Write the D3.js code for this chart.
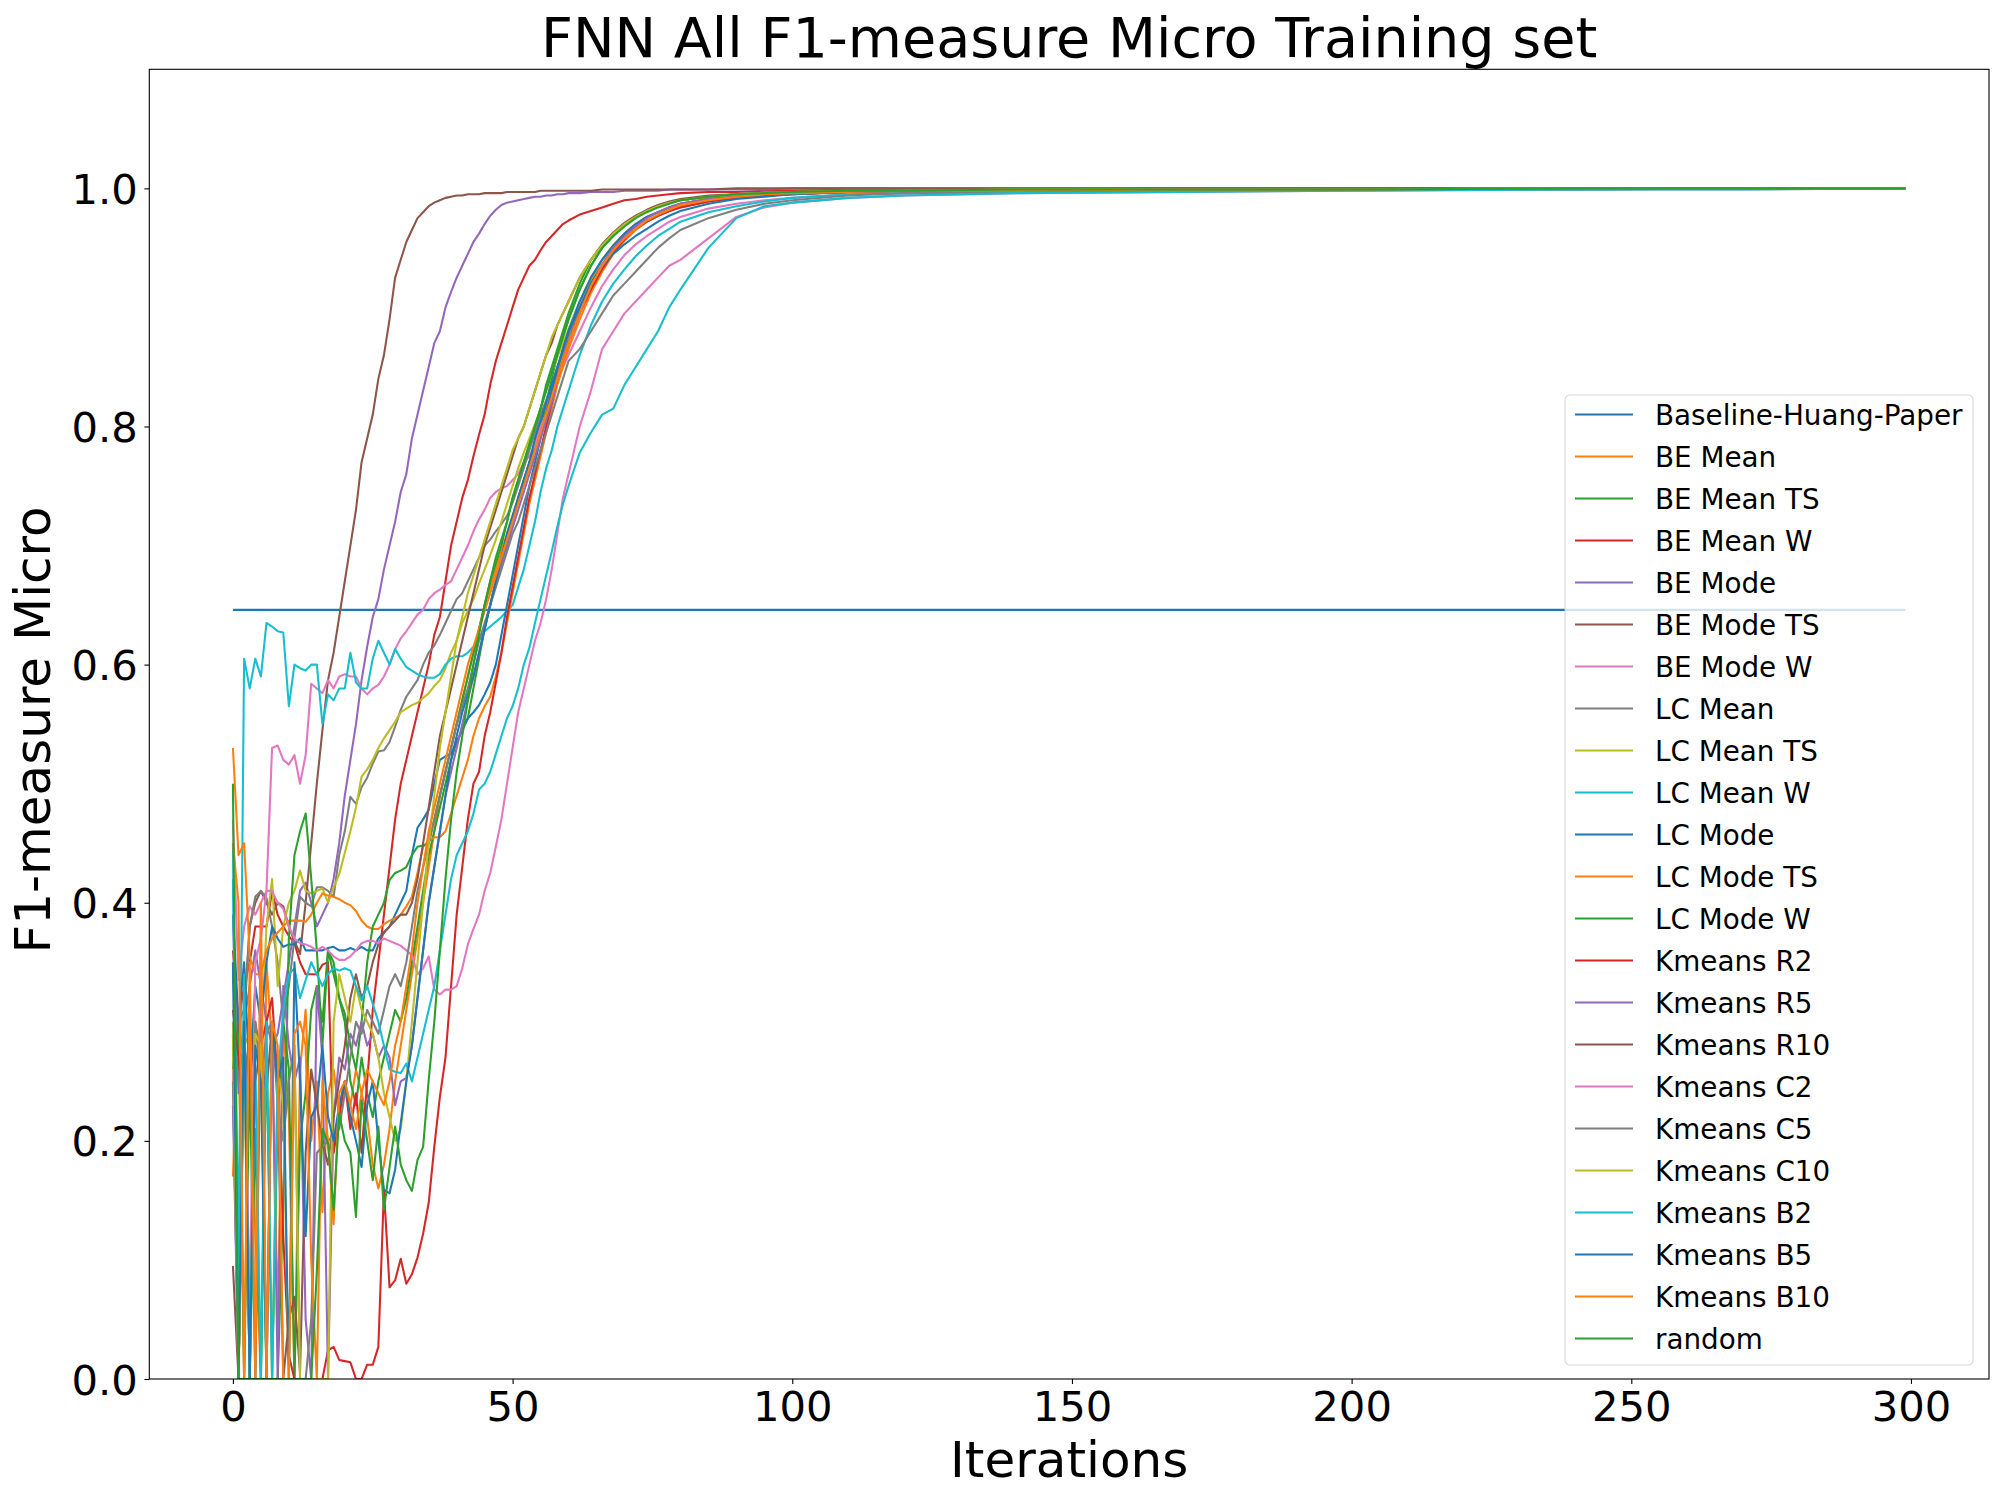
<!DOCTYPE html>
<html>
<head>
<meta charset="utf-8">
<script src="https://cdn.jsdelivr.net/npm/d3@7"></script>
<style>
  body { margin: 0; background: #ffffff; }
  svg text { font-family: "DejaVu Sans", sans-serif; fill: #000000; }
</style>
</head>
<body>
<div id="chart"></div>
<script>
// ----------------------------------------------
// Data
// ----------------------------------------------
var iters = [
    0, 1, 2, 3, 4, 5, 6, 7, 8, 9,
    10, 11, 12, 13, 14, 15, 16, 17, 18, 19,
    20, 21, 22, 23, 24, 25, 26, 27, 28, 29,
    30, 31, 32, 33, 34, 35, 36, 37, 38, 39,
    40, 41, 42, 43, 44, 45, 46, 47, 48, 49,
    50, 51, 52, 53, 54, 55, 56, 57, 58, 59,
    60,
    62, 64, 66, 68, 70, 72, 74, 76, 78, 80,
    85, 90, 95, 100, 110, 120, 140, 170, 200, 240, 270, 299
];

var baselineIters = [0, 299];
var baselineVals = [0.646, 0.646];

var beMean = [
    .17,.30,0,.33,.12,0,.35,.28,.05,.30,
    .22,0,.26,.31,.20,.25,.14,.24,.26,.22,
    .25,.23,.26,.24,.22,.18,.16,.18,.21,.25,
    .28,.31,.34,.37,.40,.43,.46,.49,.51,.53,
    .55,.57,.59,.61,.63,.65,.665,.68,.695,.71,
    .725,.74,.755,.77,.785,.80,.815,.83,.845,.86,
    .875,
    .90,.922,.94,.952,.962,.97,.976,.98,.984,.987,
    .991,.993,.995,.996,.997,.998,.998,.999,.999,1,1,1
];
var beMeanTs = [
    .28,.31,0,.26,0,.31,0,0,.22,.30,
    .26,0,.20,.24,.31,.33,.30,.36,.35,.32,
    .30,.25,.23,.27,.24,.22,.25,.27,.29,.31,
    .30,.32,.35,.38,.41,.44,.46,.48,.50,.52,
    .535,.545,.555,.58,.605,.63,.65,.67,.685,.70,
    .72,.74,.755,.77,.785,.80,.82,.84,.86,.875,
    .89,
    .915,.935,.95,.96,.97,.976,.981,.985,.988,.99,
    .993,.995,.996,.997,.998,.998,.999,.999,.999,1,1,1
];
var beMeanW = [
    .36,.30,.33,.35,.38,.38,.38,.41,.39,.38,
    .372,.366,.35,.34,.34,.34,.348,.35,.19,.22,
    .25,.21,.24,.19,.25,.31,.35,.39,.43,.47,
    .50,.52,.54,.56,.58,.60,.625,.64,.67,.70,
    .72,.74,.755,.775,.793,.81,.835,.855,.87,.885,
    .90,.915,.925,.935,.94,.948,.955,.96,.965,.97,
    .973,
    .978,.981,.984,.987,.99,.991,.993,.994,.995,.996,
    .997,.997,.998,.998,.999,.999,.999,1,1,1,1,1
];
var beMode = [
    .39,.24,.30,.33,.36,.33,.30,.28,.29,.32,
    .35,.38,.41,.417,.40,.38,.39,.40,.42,.45,
    .49,.52,.55,.587,.615,.64,.655,.68,.70,.72,
    .745,.76,.79,.81,.83,.85,.87,.88,.90,.913,
    .925,.935,.945,.955,.962,.97,.977,.982,.986,.988,
    .989,.99,.991,.992,.993,.993,.994,.994,.995,.995,
    .996,
    .996,.997,.997,.997,.998,.998,.998,.998,.999,.999,
    .999,.999,.999,1,1,1,1,1,1,1,1,1
];
var beModeTs = [
    .26,.30,.31,.38,.40,.41,.40,.39,.40,.397,
    .38,.368,.357,.40,.45,.50,.545,.587,.61,.64,
    .67,.70,.73,.77,.79,.81,.84,.86,.89,.925,
    .94,.955,.965,.975,.98,.985,.988,.99,.992,.993,
    .994,.994,.995,.995,.995,.996,.996,.996,.996,.997,
    .997,.997,.997,.997,.997,.998,.998,.998,.998,.998,
    .998,
    .998,.998,.999,.999,.999,.999,.999,.999,.999,.999,
    .999,1,1,1,1,1,1,1,1,1,1,1
];
var beModeW = [
    .47,.335,.38,.397,.39,.40,.41,.53,.532,.52,
    .516,.524,.50,.524,.584,.58,.576,.587,.58,.59,
    .592,.59,.59,.58,.575,.58,.583,.59,.60,.613,
    .622,.628,.635,.642,.646,.655,.66,.663,.667,.67,
    .68,.69,.70,.712,.722,.73,.74,.745,.748,.75,
    .755,.76,.77,.775,.785,.80,.81,.825,.84,.85,
    .86,
    .88,.90,.918,.932,.944,.953,.96,.966,.972,.976,
    .983,.987,.99,.992,.995,.996,.997,.998,.999,.999,1,1
];
var lcMean = [
    .34,.26,.30,.38,.405,.41,.404,.38,.35,.30,
    .33,.37,.405,.40,.397,.413,.413,.41,.405,.44,
    .46,.489,.483,.497,.505,.517,.527,.528,.535,.548,
    .562,.573,.58,.587,.60,.61,.616,.625,.635,.645,
    .655,.66,.67,.68,.69,.70,.705,.712,.718,.725,
    .736,.75,.765,.78,.795,.81,.822,.835,.85,.862,
    .875,
    .90,.92,.935,.948,.958,.966,.972,.977,.981,.984,
    .989,.992,.994,.995,.997,.998,.998,.999,.999,1,1,1
];
var lcMeanTs = [
    .28,.27,.28,.29,.27,.28,.38,.42,.33,.38,
    .40,.41,.427,.41,.408,.41,.412,.40,.413,.424,
    .442,.46,.48,.506,.512,.52,.53,.538,.545,.552,
    .56,.563,.566,.568,.572,.576,.582,.587,.597,.61,
    .62,.635,.645,.655,.668,.68,.692,.705,.72,.735,
    .75,.765,.778,.79,.802,.815,.83,.845,.858,.87,
    .882,
    .905,.925,.94,.952,.962,.97,.976,.98,.984,.987,
    .991,.993,.995,.996,.997,.998,.998,.999,.999,1,1,1
];
var lcMeanW = [
    .45,.10,.605,.58,.605,.59,.635,.632,.628,.627,
    .565,.60,.597,.595,.60,.60,.55,.575,.57,.58,
    .58,.61,.585,.58,.58,.605,.62,.61,.60,.613,
    .605,.598,.595,.592,.59,.589,.589,.592,.60,.605,
    .607,.607,.61,.615,.62,.628,.632,.636,.64,.645,
    .65,.665,.68,.70,.72,.745,.765,.78,.80,.815,
    .83,
    .86,.885,.905,.92,.932,.943,.952,.96,.966,.972,
    .98,.985,.989,.992,.995,.996,.997,.998,.999,.999,1,1
];
var lcMode = [
    .39,.30,.35,.25,.33,.30,.35,.38,.37,.363,
    .365,.365,.37,.36,.36,.36,.36,.362,.363,.36,
    .36,.362,.36,.363,.36,.36,.37,.375,.38,.39,
    .40,.41,.44,.463,.47,.478,.50,.52,.523,.525,
    .535,.545,.555,.56,.566,.575,.585,.60,.625,.65,
    .675,.70,.725,.75,.77,.79,.81,.83,.848,.865,
    .88,
    .905,.925,.94,.952,.962,.97,.976,.98,.984,.987,
    .991,.993,.995,.996,.997,.998,.998,.999,.999,1,1,1
];
var lcModeTs = [
    .53,.44,.45,.355,.34,.34,.36,.37,.375,.38,
    .385,.385,.385,.384,.39,.40,.408,.406,.405,.403,
    .40,.398,.393,.385,.38,.378,.378,.382,.385,.387,
    .39,.397,.405,.425,.447,.452,.455,.455,.46,.475,
    .49,.505,.52,.54,.555,.565,.573,.59,.61,.635,
    .66,.685,.71,.735,.755,.775,.795,.815,.835,.85,
    .865,
    .89,.912,.93,.945,.956,.965,.972,.977,.981,.985,
    .989,.992,.994,.995,.997,.998,.998,.999,.999,1,1,1
];
var lcModeW = [
    .29,0,.30,0,.21,0,.28,0,0,.15,
    .37,.44,.46,.475,.42,.36,.28,.36,.34,.32,
    .307,.28,.26,.30,.35,.38,.39,.40,.419,.425,
    .427,.43,.44,.447,.448,.45,.47,.49,.51,.53,
    .55,.57,.59,.61,.63,.65,.67,.69,.705,.72,
    .74,.755,.77,.785,.80,.815,.835,.85,.865,.88,
    .895,
    .92,.94,.952,.962,.97,.976,.981,.985,.988,.99,
    .993,.995,.996,.997,.998,.998,.999,.999,.999,1,1,1
];
var kmeansR2 = [
    .31,.27,.22,.30,.25,.28,.30,.32,.25,.12,
    .02,0,0,0,0,0,0,.024,.027,.016,
    .015,.014,0,0,.012,.012,.027,.159,.077,.083,
    .101,.08,.088,.102,.122,.148,.195,.237,.27,.33,
    .39,.43,.47,.50,.51,.54,.56,.585,.61,.64,
    .665,.69,.715,.74,.76,.78,.80,.82,.84,.855,
    .87,
    .895,.915,.932,.946,.957,.966,.972,.977,.981,.984,
    .989,.992,.994,.995,.997,.998,.998,.999,.999,1,1,1
];
var kmeansR5 = [
    .23,0,.33,0,0,.36,0,.30,0,.33,
    .28,.25,.27,.05,0,.33,.27,0,.22,.27,
    .26,.29,.28,.30,.28,.29,.27,.28,.27,.23,
    .25,.253,.28,.32,.36,.40,.43,.46,.49,.51,
    .53,.55,.57,.59,.61,.63,.65,.67,.685,.70,
    .715,.73,.745,.76,.775,.79,.805,.82,.84,.855,
    .87,
    .895,.918,.936,.95,.96,.968,.975,.98,.984,.987,
    .991,.993,.995,.996,.997,.998,.998,.999,.999,1,1,1
];
var kmeansR10 = [
    .095,0,.28,.25,.30,.27,.24,.30,.25,0,
    .05,.069,.006,.19,.26,.23,.20,.18,.22,.25,
    .28,.32,.34,.32,.33,.35,.365,.375,.38,.385,
    .39,.39,.40,.42,.45,.48,.51,.54,.56,.58,
    .60,.62,.64,.66,.68,.70,.715,.73,.745,.76,
    .775,.79,.80,.815,.83,.845,.86,.87,.885,.895,
    .905,
    .925,.94,.953,.963,.971,.977,.982,.986,.989,.991,
    .994,.995,.996,.997,.998,.998,.999,.999,.999,1,1,1
];
var kmeansC2 = [
    .26,0,.30,.06,.35,.37,.41,.41,.40,.395,
    .38,.37,.366,.365,.363,.36,.363,.36,.355,.352,
    .352,.355,.36,.366,.368,.368,.366,.37,.368,.366,
    .364,.36,.356,.34,.345,.355,.327,.323,.327,.327,
    .33,.345,.365,.378,.39,.41,.425,.447,.47,.50,
    .53,.56,.58,.60,.62,.635,.655,.68,.71,.74,
    .76,
    .80,.83,.865,.88,.895,.905,.915,.925,.935,.94,
    .958,.976,.984,.988,.992,.994,.996,.997,.998,.999,.999,1
];
var kmeansC5 = [
    .25,0,.29,0,.30,.25,.29,.30,.23,.20,
    .25,.28,0,0,.05,.19,.195,.20,.205,.21,
    .24,.27,.30,.29,.31,.30,.29,.31,.33,.34,
    .33,.35,.38,.41,.43,.45,.47,.49,.51,.53,
    .55,.565,.58,.60,.62,.635,.65,.665,.68,.695,
    .71,.72,.735,.75,.765,.78,.795,.81,.825,.84,
    .855,
    .865,.88,.895,.91,.92,.93,.94,.95,.958,.965,
    .975,.982,.987,.99,.994,.996,.997,.998,.999,.999,1,1
];
var kmeansC10 = [
    .30,0,.27,0,.29,.28,0,0,.26,.23,
    0,.27,0,0,0,0,0,0,.30,.34,
    .32,.30,.33,.31,.30,.29,.27,.24,.22,.20,
    .21,.25,.30,.35,.40,.45,.49,.53,.56,.59,
    .62,.64,.66,.675,.69,.705,.72,.735,.75,.765,
    .78,.79,.80,.815,.83,.845,.86,.875,.885,.895,
    .905,
    .925,.94,.952,.962,.97,.976,.981,.985,.988,.99,
    .993,.995,.996,.997,.998,.998,.999,.999,.999,1,1,1
];
var kmeansB2 = [
    .42,.03,.34,0,.27,0,.30,0,.25,.31,
    .34,.345,.32,.335,.35,.34,.33,.34,.345,.343,
    .345,.343,.33,.318,.33,.315,.30,.28,.26,.258,
    .257,.265,.25,.27,.29,.31,.33,.36,.39,.42,
    .44,.45,.46,.475,.495,.50,.51,.525,.54,.555,
    .565,.58,.60,.614,.635,.655,.675,.695,.716,.735,
    .75,
    .778,.795,.81,.815,.835,.85,.865,.88,.90,.915,
    .95,.975,.985,.988,.992,.994,.996,.997,.998,.999,.999,1
];
var kmeansB5 = [
    .35,0,.30,0,.28,.25,0,.30,.25,.27,
    0,.35,.25,.12,.22,.23,.28,.22,.20,.23,
    .25,.22,.20,.178,.23,.25,.20,.159,.156,.176,
    .215,.25,.28,.32,.36,.40,.43,.46,.49,.52,
    .54,.56,.575,.59,.61,.63,.65,.67,.69,.71,
    .725,.74,.755,.77,.79,.805,.82,.835,.85,.865,
    .88,
    .90,.92,.935,.945,.953,.96,.966,.972,.977,.981,
    .987,.991,.993,.995,.997,.998,.998,.999,.999,1,1,1
];
var kmeansB10 = [
    .45,.40,0,.35,0,.40,0,.30,.28,0,
    0,.29,.30,.28,.10,0,.25,.20,.13,.24,
    .25,.23,.21,.24,.26,.25,.24,.23,.25,.28,
    .30,.33,.36,.40,.43,.46,.48,.50,.52,.54,
    .56,.58,.60,.615,.63,.645,.66,.675,.69,.705,
    .72,.735,.75,.765,.78,.795,.81,.825,.84,.855,
    .87,
    .895,.918,.935,.948,.958,.966,.973,.978,.982,.986,
    .99,.993,.995,.996,.997,.998,.998,.999,.999,1,1,1
];
var random = [
    .50,0,0,0,0,0,0,0,0,0,
    0,0,0,0,0,.09,.21,.198,.142,.223,
    .20,.19,.136,.234,.20,.167,.212,.142,.178,.212,
    .18,.167,.158,.184,.195,.251,.30,.36,.42,.47,
    .51,.54,.57,.60,.625,.65,.67,.685,.70,.72,
    .74,.755,.77,.785,.80,.815,.83,.845,.86,.875,
    .89,
    .915,.935,.95,.96,.968,.975,.98,.984,.987,.99,
    .993,.995,.996,.997,.998,.998,.999,.999,.999,1,1,1
];

var seriesNames = [
    "BE Mean", "BE Mean TS", "BE Mean W", "BE Mode", "BE Mode TS", "BE Mode W",
    "LC Mean", "LC Mean TS", "LC Mean W", "LC Mode", "LC Mode TS", "LC Mode W",
    "Kmeans R2", "Kmeans R5", "Kmeans R10", "Kmeans C2", "Kmeans C5", "Kmeans C10",
    "Kmeans B2", "Kmeans B5", "Kmeans B10", "random"
];
var seriesValues = [
    beMean, beMeanTs, beMeanW, beMode, beModeTs, beModeW,
    lcMean, lcMeanTs, lcMeanW, lcMode, lcModeTs, lcModeW,
    kmeansR2, kmeansR5, kmeansR10, kmeansC2, kmeansC5, kmeansC10,
    kmeansB2, kmeansB5, kmeansB10, random
];

var xTicks = [0, 50, 100, 150, 200, 250, 300];
var yTicks = [0.0, 0.2, 0.4, 0.6, 0.8, 1.0];

// ----------------------------------------------
// Basic D3 Setup
// ----------------------------------------------
var svgWidth = 2000;
var svgHeight = 1500;

var plot = { left: 149.3, right: 1989, top: 69.3, bottom: 1379 };

// matplotlib tab10 cycle
var palette = ["#1f77b4", "#ff7f0e", "#2ca02c", "#d62728", "#9467bd",
    "#8c564b", "#e377c2", "#7f7f7f", "#bcbd22", "#17becf"];

var svg = d3.select("#chart")
    .append("svg")
    .attr("width", svgWidth)
    .attr("height", svgHeight);

svg.append("rect")
    .attr("width", svgWidth)
    .attr("height", svgHeight)
    .attr("fill", "#ffffff");

var xScale = d3.scaleLinear()
    .domain([-14.95, 313.95])
    .range([plot.left, plot.right]);
var yScale = d3.scaleLinear()
    .domain([0, 1.1])
    .range([plot.bottom, plot.top]);

svg.append("clipPath")
    .attr("id", "plotClip")
    .append("rect")
    .attr("x", plot.left)
    .attr("y", plot.top)
    .attr("width", plot.right - plot.left)
    .attr("height", plot.bottom - plot.top);

// ----------------------------------------------
// Lines
// ----------------------------------------------
var linesGroup = svg.append("g")
    .attr("clip-path", "url(#plotClip)");

var allLines = [{ name: "Baseline-Huang-Paper", xs: baselineIters, ys: baselineVals }];
seriesNames.forEach(function (name, i) {
    allLines.push({ name: name, xs: iters, ys: seriesValues[i] });
});

linesGroup.selectAll(".series")
    .data(allLines)
    .enter()
    .append("path")
    .classed("series", true)
    .attr("fill", "none")
    .attr("stroke", (d, i) => palette[i % 10])
    .attr("stroke-width", 2.08)
    .attr("stroke-linejoin", "round")
    .attr("d", d => d3.line()
        .x((v, j) => xScale(d.xs[j]))
        .y(v => yScale(v))(d.ys));

// ----------------------------------------------
// Axes
// ----------------------------------------------
var xAxis = svg.append("g")
    .attr("transform", `translate(0, ${plot.bottom})`)
    .call(d3.axisBottom(xScale)
        .tickValues(xTicks)
        .tickFormat(d3.format("d"))
        .tickSize(4.9)
        .tickPadding(7.5));
var yAxis = svg.append("g")
    .attr("transform", `translate(${plot.left}, 0)`)
    .call(d3.axisLeft(yScale)
        .tickValues(yTicks)
        .tickFormat(d3.format(".1f"))
        .tickSize(4.9)
        .tickPadding(6.5));

[xAxis, yAxis].forEach(function (ax) {
    ax.select(".domain").remove();
    ax.selectAll(".tick line").attr("stroke", "#000000").attr("stroke-width", 1.1);
    ax.selectAll(".tick text")
        .attr("font-family", "DejaVu Sans")
        .attr("font-size", 41.7)
        .attr("fill", "#000000");
});
yAxis.selectAll(".tick text").attr("dy", "0.36em");

// spines on top of the lines
svg.append("rect")
    .attr("x", plot.left)
    .attr("y", plot.top)
    .attr("width", plot.right - plot.left)
    .attr("height", plot.bottom - plot.top)
    .attr("fill", "none")
    .attr("stroke", "#000000")
    .attr("stroke-width", 1.1);

// ----------------------------------------------
// Title and labels
// ----------------------------------------------
var midX = (plot.left + plot.right) / 2;

svg.append("text")
    .attr("x", midX)
    .attr("y", 57)
    .attr("text-anchor", "middle")
    .attr("font-size", 55.6)
    .text("FNN All F1-measure Micro Training set");

svg.append("text")
    .attr("x", midX)
    .attr("y", 1477)
    .attr("text-anchor", "middle")
    .attr("font-size", 50)
    .text("Iterations");

svg.append("text")
    .attr("transform", `translate(50, 730)rotate(-90)`)
    .attr("text-anchor", "middle")
    .attr("font-size", 50)
    .text("F1-measure Micro");

// ----------------------------------------------
// Legend
// ----------------------------------------------
var legend = { x: 1565, y: 395, w: 408, h: 970, row0: 414.5, pitch: 42 };

var legendGroup = svg.append("g");
legendGroup.append("rect")
    .attr("x", legend.x)
    .attr("y", legend.y)
    .attr("width", legend.w)
    .attr("height", legend.h)
    .attr("rx", 5)
    .attr("fill", "#ffffff")
    .attr("fill-opacity", 0.8)
    .attr("stroke", "#cccccc")
    .attr("stroke-opacity", 0.8)
    .attr("stroke-width", 1.1);

var legendRows = legendGroup.selectAll(".legendRow")
    .data(allLines)
    .enter()
    .append("g")
    .classed("legendRow", true)
    .attr("transform", (d, i) => `translate(0, ${legend.row0 + i * legend.pitch})`);
legendRows.append("line")
    .attr("x1", 1575)
    .attr("x2", 1633)
    .attr("stroke", (d, i) => palette[i % 10])
    .attr("stroke-width", 2.08);
legendRows.append("text")
    .attr("x", 1655)
    .attr("y", 10)
    .attr("font-size", 27.8)
    .text(d => d.name);
</script>
</body>
</html>
